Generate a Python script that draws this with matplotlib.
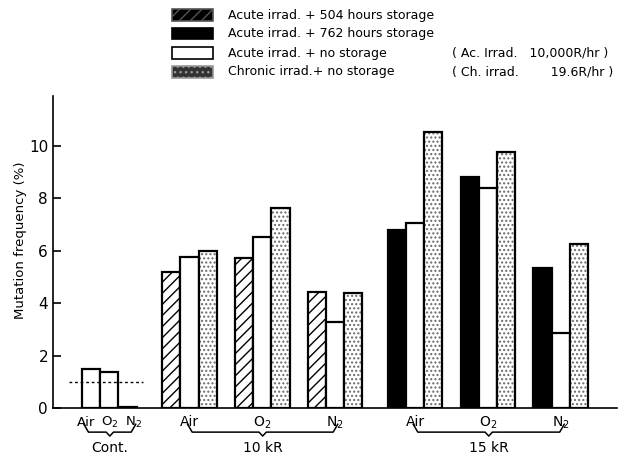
import numpy as np
import matplotlib
matplotlib.use('Agg')
import matplotlib.pyplot as plt
from matplotlib.patches import Rectangle

#%% data
gases = ['Air', 'O$_2$', 'N$_2$']
cont = [1.49, 1.37, 0.05]
cont_level = 1.0

# 10 kR groups: 504 h storage / no storage / chronic
kr10_504 = [5.2, 5.72, 4.43]
kr10_none = [5.77, 6.53, 3.28]
kr10_chron = [6.0, 7.63, 4.39]

# 15 kR groups: 762 h storage / no storage / chronic
kr15_762 = [6.79, 8.82, 5.34]
kr15_none = [7.06, 8.4, 2.86]
kr15_chron = [10.53, 9.77, 6.26]

legend_labels = ['Acute irrad. + 504 hours storage',
                 'Acute irrad. + 762 hours storage',
                 'Acute irrad. + no storage',
                 'Chronic irrad.+ no storage']
legend_notes = ['', '', '( Ac. Irrad.   10,000R/hr )', '( Ch. irrad.        19.6R/hr )']
group_names = ['Cont.', '10 kR', '15 kR']

#%%
plt.rcParams['font.family'] = 'DejaVu Sans'
plt.rcParams['hatch.linewidth'] = 1.0

fig = plt.figure(figsize=(6.21, 4.55), dpi=100)
ax = fig.add_axes([0.0853, 0.1033, 0.9083, 0.6857])

w = 1.0
lw = 1.6
cont_x = np.array([2.1, 3.1, 4.1])
g10 = np.array([6.0, 10.0, 14.0])
g15 = np.array([18.4, 22.4, 26.4])


def stipple(x, h):
    # light dotted fill, then a black outline on top
    ax.bar(x, h, w, color='white', edgecolor='#6a6a6a', hatch='....', linewidth=0)
    ax.bar(x, h, w, fill=False, edgecolor='k', linewidth=lw)


ax.bar(cont_x, cont, w, color='white', edgecolor='k', linewidth=lw)
ax.plot([0.9, 4.95], [cont_level, cont_level], ls=(0, (2, 2)), color='k', lw=1)

ax.bar(g10 + 0.5, kr10_504, w, color='white', edgecolor='k', hatch='///', linewidth=lw)
ax.bar(g10 + 1.5, kr10_none, w, color='white', edgecolor='k', linewidth=lw)
stipple(g10 + 2.5, kr10_chron)

ax.bar(g15 + 0.5, kr15_762, w, color='k', edgecolor='k', linewidth=lw)
ax.bar(g15 + 1.5, kr15_none, w, color='white', edgecolor='k', linewidth=lw)
stipple(g15 + 2.5, kr15_chron)

ax.set_xlim(0, 31)
ax.set_ylim(0, 11.9)
ax.spines['top'].set_visible(False)
ax.spines['right'].set_visible(False)
ax.spines['left'].set_linewidth(1.2)
ax.spines['bottom'].set_linewidth(1.2)
ax.set_xticks([])
ax.set_yticks(np.arange(0, 11, 2))
ax.tick_params(axis='y', direction='in', length=6, width=1.2, labelsize=11)
fig.text(0.033, 0.472, 'Mutation frequency (%)', rotation=90, fontsize=9.5,
         ha='center', va='center')


def brace(x0, x1, y, label):
    xc = 0.5 * (x0 + x1)
    ax.plot([x0, x0 + 0.25, xc - 0.2, xc, xc + 0.2, x1 - 0.25, x1],
            [y + 0.3, y, y, y - 0.15, y, y, y + 0.3],
            color='k', lw=1.1, clip_on=False)
    ax.text(xc, y - 0.35, label, ha='center', va='top', fontsize=10)


lab_y = -0.55
for x, g in zip([1.8, 3.1, 4.45], gases):
    ax.text(x, lab_y, g, ha='center', va='center', fontsize=9.5)
brace(1.7, 4.55, -0.92, group_names[0])

for x, g in zip(g10 + 1.5, gases):
    ax.text(x, lab_y, g, ha='center', va='center', fontsize=10)
brace(7.4, 15.65, -0.92, group_names[1])

for x, g in zip(g15 + 1.5, gases):
    ax.text(x, lab_y, g, ha='center', va='center', fontsize=10)
brace(19.8, 28.1, -0.92, group_names[2])

# legend swatches at the top
styles = [dict(facecolor='k', edgecolor='#555555', hatch='///'),
          dict(facecolor='k', edgecolor='k'),
          dict(facecolor='white', edgecolor='k'),
          dict(facecolor='#333333', edgecolor='#999999', hatch='...')]
rows_y = [15, 34, 53, 72]
for yy, st, lab, note in zip(rows_y, styles, legend_labels, legend_notes):
    fy = 1 - yy / 455.0
    fig.add_artist(Rectangle((172 / 621.0, fy - 5.5 / 455.0), 41 / 621.0, 11 / 455.0,
                             transform=fig.transFigure, linewidth=1.2, **st))
    fig.text(228 / 621.0, fy, lab, fontsize=9, ha='left', va='center')
    if note:
        fig.text(452 / 621.0, fy, note, fontsize=9, ha='left', va='center')

plt.savefig('out.png', dpi=100)
